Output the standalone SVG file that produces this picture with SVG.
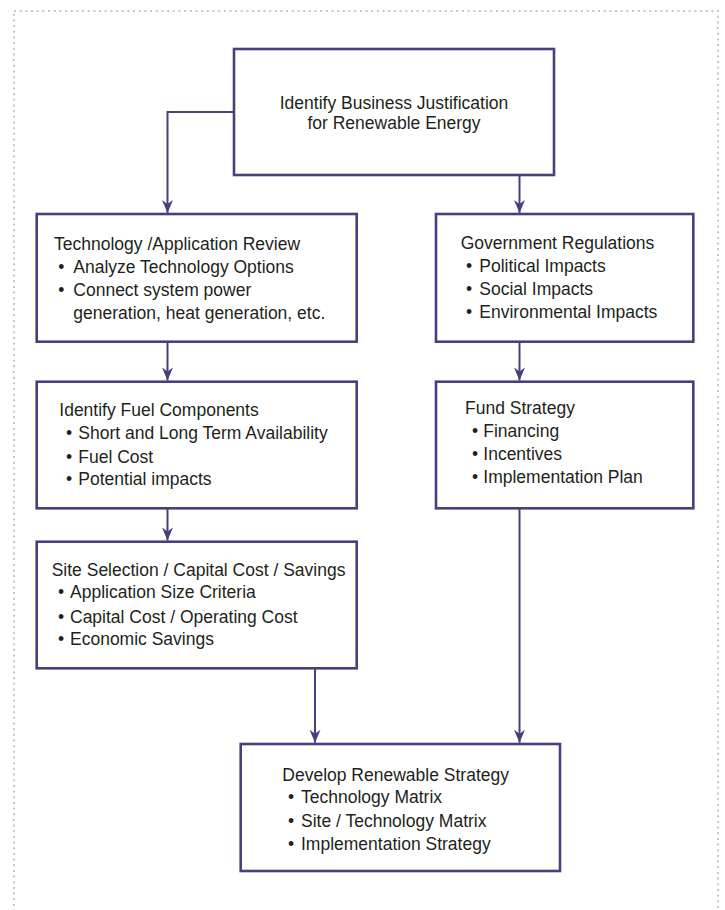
<svg xmlns="http://www.w3.org/2000/svg" width="725" height="910" viewBox="0 0 725 910">
<style>
.frame{fill:none;stroke:#c6c4da;stroke-width:2;stroke-dasharray:2 3.67}
.box{fill:#ffffff;stroke:#463f80;stroke-width:2.6}
.con{fill:none;stroke:#463f80;stroke-width:2}
text{font-family:"Liberation Sans",Arial,sans-serif;font-size:17.5px;fill:#231f20}
.c{text-anchor:middle}
</style>
<defs>
<marker id="arr" markerUnits="userSpaceOnUse" markerWidth="16" markerHeight="14" viewBox="-14 -7 16 14" refX="0" refY="0" orient="auto">
<path d="M0,0 L-13,-5.5 L-9,0 L-13,5.5 Z" fill="#463f80"/>
</marker>
</defs>
<rect x="14" y="11" width="704" height="920" class="frame"/>
<g id="connectors">
<path class="con" d="M234,112 H167.5 V213" marker-end="url(#arr)"/>
<path class="con" d="M519.5,175 V213" marker-end="url(#arr)"/>
<path class="con" d="M167.5,341.7 V380.5" marker-end="url(#arr)"/>
<path class="con" d="M167.5,508.3 V540.5" marker-end="url(#arr)"/>
<path class="con" d="M519.5,341.7 V380.5" marker-end="url(#arr)"/>
<path class="con" d="M315,668.3 V742.8" marker-end="url(#arr)"/>
<path class="con" d="M519.5,508.3 V742.8" marker-end="url(#arr)"/>
</g>
<g id="node-justification">
<rect class="box" x="234" y="49" width="320" height="126"/>
<text class="c" x="394" y="109.3">Identify Business Justification</text>
<text class="c" x="394" y="129.3">for Renewable Energy</text>
</g>
<g id="node-technology">
<rect class="box" x="36.7" y="214" width="320" height="127.7"/>
<text x="54" y="250">Technology /Application Review</text>
<text x="58.2" y="273">•</text><text x="73.3" y="273">Analyze Technology Options</text>
<text x="58.2" y="296">•</text><text x="73.3" y="296">Connect system power</text>
<text x="73.3" y="319">generation, heat generation, etc.</text>
</g>
<g id="node-government">
<rect class="box" x="436" y="214" width="257.3" height="127.7"/>
<text x="460.7" y="248.5">Government Regulations</text>
<text x="466.1" y="271.5">•</text><text x="479.3" y="271.5">Political Impacts</text>
<text x="466.1" y="295">•</text><text x="479.3" y="295">Social Impacts</text>
<text x="466.1" y="318">•</text><text x="479.3" y="318">Environmental Impacts</text>
</g>
<g id="node-fuel">
<rect class="box" x="36.7" y="381.7" width="320" height="126.6"/>
<text x="59.3" y="415.7">Identify Fuel Components</text>
<text x="66" y="439.3">•</text><text x="78.3" y="439.3">Short and Long Term Availability</text>
<text x="66" y="462.7">•</text><text x="78.3" y="462.7">Fuel Cost</text>
<text x="66" y="485">•</text><text x="78.3" y="485">Potential impacts</text>
</g>
<g id="node-fund">
<rect class="box" x="436" y="381.7" width="257.3" height="126.6"/>
<text x="465" y="414">Fund Strategy</text>
<text x="472" y="437.3">•</text><text x="483.3" y="437.3">Financing</text>
<text x="472" y="460">•</text><text x="483.3" y="460">Incentives</text>
<text x="472" y="483.3">•</text><text x="483.3" y="483.3">Implementation Plan</text>
</g>
<g id="node-site">
<rect class="box" x="36.7" y="541.7" width="320" height="126.6"/>
<text x="51.7" y="576">Site Selection / Capital Cost / Savings</text>
<text x="58" y="598.3">•</text><text x="70" y="598.3">Application Size Criteria</text>
<text x="58" y="622.7">•</text><text x="70" y="622.7">Capital Cost / Operating Cost</text>
<text x="58" y="645">•</text><text x="70" y="645">Economic Savings</text>
</g>
<g id="node-develop">
<rect class="box" x="240.7" y="744" width="319.3" height="127"/>
<text x="282.3" y="780.7">Develop Renewable Strategy</text>
<text x="288" y="803.3">•</text><text x="301" y="803.3">Technology Matrix</text>
<text x="288" y="826.7">•</text><text x="301" y="826.7">Site / Technology Matrix</text>
<text x="288" y="850">•</text><text x="301" y="850">Implementation Strategy</text>
</g>
</svg>
